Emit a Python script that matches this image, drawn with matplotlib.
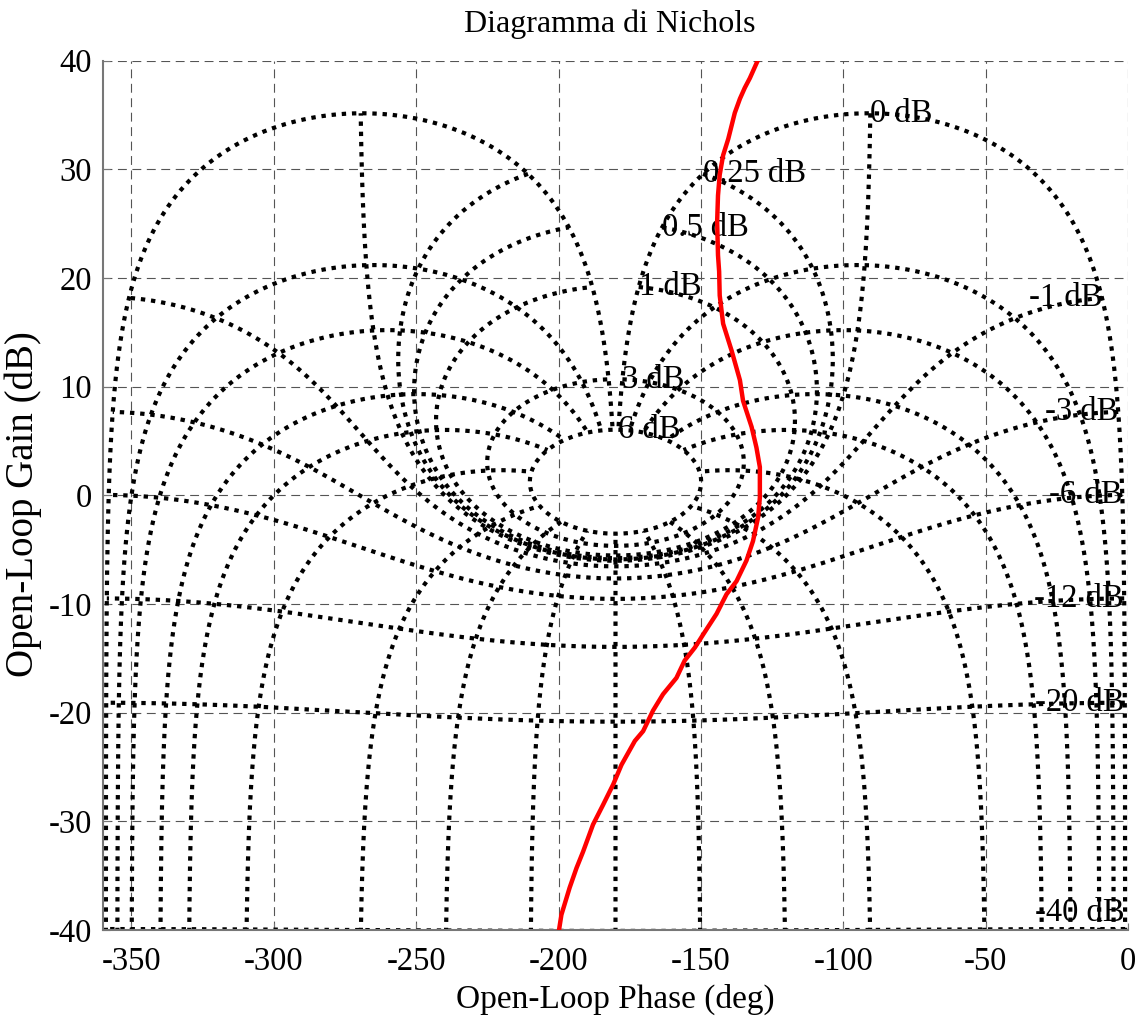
import numpy as np
import matplotlib.pyplot as plt

plt.rcParams['font.family'] = ['Liberation Serif', 'DejaVu Serif']
plt.rcParams['axes.unicode_minus'] = False

# ------------------------------------------------
# Nichols grid levels
# ------------------------------------------------

# closed-loop magnitude contours (dB)
MAG_LEVELS = [6, 3, 1, 0.5, 0.25, 0, -1, -3, -6, -12, -20, -40]

# closed-loop phase contours (deg)
PHASE_LEVELS = [-1, -5, -10, -20, -30, -50, -90, -120, -150, -180,
                -210, -240, -270, -310, -330, -340, -350, -355, -359]

# ------------------------------------------------
# Open-loop response
# ------------------------------------------------

ol_phase = [-129.9, -132.8, -134.6, -136.3, -138.1, -140.4, -142.2, -143.4,
            -144.0, -144.3, -144.0, -143.6, -143.4, -142.2, -139.2, -136.3,
            -135.2, -132.2, -130.5, -129.3, -129.3, -129.9, -131.7, -134.0,
            -137.5, -141.0, -144.5, -149.2, -152.1, -155.7, -158.6, -163.3,
            -166.8, -170.3, -173.2, -177.9, -180.8, -184.4, -187.9, -191.4,
            -193.7, -196.1, -199.0, -200.2]
ol_gain = [40.1, 38.4, 37.5, 36.5, 35.2, 32.8, 31.3, 29.5,
           27.6, 25.2, 22.1, 20.6, 18.4, 15.8, 13.3, 10.6,
           8.7, 6.3, 4.4, 2.6, -0.2, -2.0, -4.2, -6.0,
           -7.9, -9.1, -10.9, -12.8, -14.0, -15.2, -16.8, -18.3,
           -19.8, -21.7, -22.6, -24.8, -26.6, -28.5, -30.3, -32.8,
           -34.3, -36.1, -38.6, -40.6]


def closed_to_open(mag_db, phase_deg):
    # closed loop T = M e^{j phi}  ->  open loop L = T / (1 - T)
    t = 10 ** (np.asarray(mag_db) / 20.0) * np.exp(1j * np.deg2rad(phase_deg))
    gain = 20 * np.log10(np.abs(t / (1 - t)))
    phase = phase_deg - np.rad2deg(np.angle(1 - t))
    return phase, gain


fig = plt.figure(figsize=(11.41, 10.23), dpi=100)
ax = fig.add_axes([103 / 1141, 1 - 930 / 1023, 1025 / 1141, 869.3 / 1023])

grid_style = dict(color="black", linewidth=3.0, linestyle=(0, (1.05, 1.4)))

# magnitude contours
psi = np.linspace(-1, -359, 4000)
for m in MAG_LEVELS:
    ph, g = closed_to_open(np.full_like(psi, m), psi)
    ax.plot(ph, g, **grid_style)

# phase contours
mags = np.concatenate([np.linspace(-80, -1, 4000),
                       np.linspace(-1, 1, 20000),
                       np.linspace(1, 6, 3000)])
for p in PHASE_LEVELS:
    ph, g = closed_to_open(mags, np.full_like(mags, p))
    ax.plot(ph, g, **grid_style)

# labels at the -1 deg end of each magnitude contour
for m in MAG_LEVELS:
    ph, g = closed_to_open(m, -1.0)
    ax.text(ph, max(g, -38.4), f"{m:g} dB", fontsize=23.5,
            ha="left" if m >= 0 else "right", va="center")

ax.plot(ol_phase, ol_gain, color="red", linewidth=3.2, zorder=5)

ax.set_xlim(-360, 0)
ax.set_ylim(-40, 40)
ax.set_xticks(np.arange(-350, 1, 50))
ax.set_yticks(np.arange(-40, 41, 10))
ax.grid(True, color="#555555", linewidth=0.8, linestyle=(0, (8, 5)))

for side in ["top", "right"]:
    ax.spines[side].set_visible(False)
for side in ["left", "bottom"]:
    ax.spines[side].set_color("#777777")
    ax.spines[side].set_linewidth(1.5)

ax.tick_params(direction="in", length=5, color="#777777", labelsize=23.5, pad=8)
ax.tick_params(axis="x", pad=12)

fig.text(610 / 1141, 1 - 31.7 / 1023, "Diagramma di Nichols", fontsize=23,
         ha="center", va="baseline")
ax.set_xlabel("Open-Loop Phase (deg)", fontsize=24, labelpad=5)
ax.set_ylabel("Open-Loop Gain (dB)", fontsize=28)
ax.yaxis.set_label_coords((42 - 103) / 1025, 0.49)

plt.savefig("out.png", dpi=100)
